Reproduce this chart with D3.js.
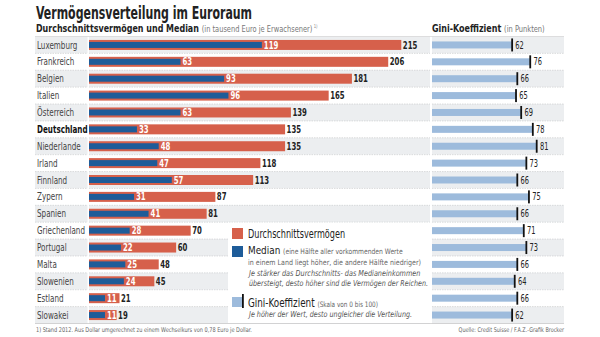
<!DOCTYPE html>
<html><head><meta charset="utf-8">
<script src="https://cdn.jsdelivr.net/npm/d3@7"></script>
<style>
body{margin:0;background:#fff;}
svg{display:block;font-family:"DejaVu Sans Condensed","DejaVu Sans",sans-serif;}
</style></head><body>
<svg id="c" width="600" height="337"></svg>
<script>
const countries=["Luxemburg","Frankreich","Belgien","Italien","Österreich","Deutschland","Niederlande","Irland","Finnland","Zypern","Spanien","Griechenland","Portugal","Malta","Slowenien","Estland","Slowakei"];
const mean=[215,206,181,165,139,135,135,118,113,87,81,70,60,48,45,21,19];
const median=[119,63,93,96,63,33,48,47,57,31,41,28,22,25,24,11,11];
const gini=[62,76,66,65,69,78,81,73,66,75,66,71,73,66,64,66,62];

const svg=d3.select("#c");
const red="#d6604b", blue="#1e5c99", lblue="#9dbbdc", grayBg="#eceef0";
const y=d3.scaleBand().domain(countries).range([36.5,323.5]);
const x=d3.scaleLinear().domain([0,215]).range([89,401.3]);
const g=d3.scaleLinear().domain([0,81]).range([432,536.7]);

function T(parent,px,py,size,opts={}){
  const t=parent.append("text").attr("x",0).attr("y",0).attr("font-size",size)
    .attr("fill",opts.fill||"#222").attr("transform",`translate(${px},${py}) scale(${opts.sx||0.85},1)`);
  if(opts.bold)t.attr("font-weight","bold");
  if(opts.italic)t.attr("font-style","italic");
  if(opts.anchor)t.attr("text-anchor",opts.anchor);
  if(opts.text!==undefined)t.text(opts.text);
  t.node().__pos=[px,py];
  return t;
}
function fit(t,w){
  const bw=t.node().getBBox().width;
  const [px,py]=t.node().__pos;
  t.attr("transform",`translate(${px},${py}) scale(${w/bw},1)`);
  return t;
}

const rows=svg.append("g");
countries.forEach((c,i)=>{
  const fill=i%2===0?grayBg:"#fff";
  rows.append("rect").attr("x",35).attr("y",y(c)).attr("width",52.5).attr("height",y.bandwidth()).attr("fill",fill);
  rows.append("rect").attr("x",89).attr("y",y(c)).attr("width",341).attr("height",y.bandwidth()).attr("fill",fill);
  rows.append("rect").attr("x",432).attr("y",y(c)).attr("width",132).attr("height",y.bandwidth()).attr("fill",fill);
  if(i>0){
    [[35,87.5],[89,430],[432,564]].forEach(([a,b])=>rows.append("line").attr("x1",a).attr("x2",b).attr("y1",y(c)).attr("y2",y(c)).attr("stroke","#c4c6c8").attr("stroke-width",0.6).attr("stroke-dasharray","1.5,1"));
  }
});
svg.append("line").attr("x1",35).attr("x2",564).attr("y1",323.5).attr("y2",323.5).attr("stroke","#bbb").attr("stroke-width",0.6);
svg.append("line").attr("x1",35).attr("x2",564).attr("y1",36.5).attr("y2",36.5).attr("stroke","#ccc").attr("stroke-width",0.6);

svg.append("rect").attr("x",228).attr("y",y("Griechenland")+0.5).attr("width",202).attr("height",323-y("Griechenland")-0.5).attr("fill","#fff");

const lab=svg.append("g");
const probe=T(lab,0,0,10,{text:"Griechenland",sx:1});
const labSx=48/probe.node().getBBox().width; probe.remove();
countries.forEach(c=>{
  T(lab,37,y(c)+y.bandwidth()/2+3.6,10,{text:c,sx:labSx,fill:c==="Deutschland"?"#111":"#444",bold:c==="Deutschland"});
});

const bh=10, mh=6;
const bars=svg.append("g");
const pn=T(bars,0,0,10,{text:"215",bold:true,sx:1});
const numSx=14.5/pn.node().getBBox().width; pn.remove();
const pg=T(bars,0,0,10,{text:"62",sx:1});
const gSx=8.5/pg.node().getBBox().width; pg.remove();
countries.forEach((c,i)=>{
  const cy=y(c)+y.bandwidth()/2;
  bars.append("rect").attr("x",x(0)).attr("y",cy-bh/2).attr("width",x(mean[i])-x(0)).attr("height",bh).attr("fill",red);
  bars.append("rect").attr("x",x(0)).attr("y",cy-mh/2).attr("width",x(median[i])-x(0)).attr("height",mh).attr("fill",blue);
  T(bars,x(median[i])+2,cy+3.6,10,{text:median[i],bold:true,fill:"#fff",sx:numSx});
  T(bars,x(mean[i])+1.5,cy+3.6,10,{text:mean[i],bold:true,fill:"#222",sx:numSx});
  bars.append("rect").attr("x",g(0)).attr("y",cy-3.5).attr("width",g(gini[i])-g(0)).attr("height",7).attr("fill",lblue);
  bars.append("rect").attr("x",g(gini[i])-0.9).attr("y",cy-6.5).attr("width",1.8).attr("height",13).attr("fill","#111");
  T(bars,g(gini[i])+3.2,cy+3.6,10,{text:gini[i],fill:"#222",sx:gSx});
});

fit(T(svg,36,18.5,17.5,{text:"Vermögensverteilung im Euroraum",bold:true,fill:"#222"}),216);
const st=T(svg,36,31.5,10.5,{fill:"#222"});
st.append("tspan").attr("font-weight","bold").text("Durchschnittsvermögen und Median ");
st.append("tspan").attr("fill","#777").attr("font-size",8.8).text("(in tausend Euro je Erwachsener)");
st.append("tspan").attr("fill","#888").attr("font-size",5).attr("dy",-4).text(" 1)");
fit(st,282);
const gt=T(svg,432,31.5,10.5,{fill:"#222"});
gt.append("tspan").attr("font-weight","bold").text("Gini-Koeffizient ");
gt.append("tspan").attr("fill","#777").attr("font-size",8.8).text("(in Punkten)");
fit(gt,113);

const L=svg.append("g");
L.append("rect").attr("x",232).attr("y",228).attr("width",11).attr("height",11).attr("fill",red);
fit(T(L,248,237.5,11.5,{text:"Durchschnittsvermögen"}),97);
L.append("rect").attr("x",232).attr("y",246).attr("width",11).attr("height",11).attr("fill",blue);
const mt=T(L,248,254,11,{});
mt.append("tspan").text("Median ");
mt.append("tspan").attr("font-size",7.5).attr("fill","#666").text("(eine Hälfte aller vorkommenden Werte");
fit(mt,155);
fit(T(L,248,264.5,7.5,{fill:"#666",text:"in einem Land liegt höher, die andere Hälfte niedriger)"}),173);
fit(T(L,249,276,8.2,{fill:"#555",italic:true,text:"Je stärker das Durchschnitts- das Medianeinkommen"}),173);
fit(T(L,249,286,8.2,{fill:"#555",italic:true,text:"übersteigt, desto höher sind die Vermögen der Reichen."}),179);
L.append("rect").attr("x",232).attr("y",297).attr("width",11).attr("height",10).attr("fill",lblue);
L.append("rect").attr("x",242).attr("y",294).attr("width",1.8).attr("height",14).attr("fill","#111");
const gl=T(L,248,306.5,11.5,{});
gl.append("tspan").text("Gini-Koeffizient ");
gl.append("tspan").attr("font-size",7.5).attr("fill","#666").text("(Skala von 0 bis 100)");
fit(gl,130);
fit(T(L,249,317,8.2,{fill:"#555",italic:true,text:"Je  höher der Wert, desto ungleicher die Verteilung."}),165);

fit(T(svg,36,332,6.5,{fill:"#666",text:"1) Stand 2012. Aus Dollar umgerechnet zu einem Wechselkurs von 0,78 Euro je Dollar."}),216);
fit(T(svg,564,332,6.5,{fill:"#666",anchor:"end",text:"Quelle: Credit Suisse / F.A.Z.-Grafik Brocker"}),106);
</script></body></html>
